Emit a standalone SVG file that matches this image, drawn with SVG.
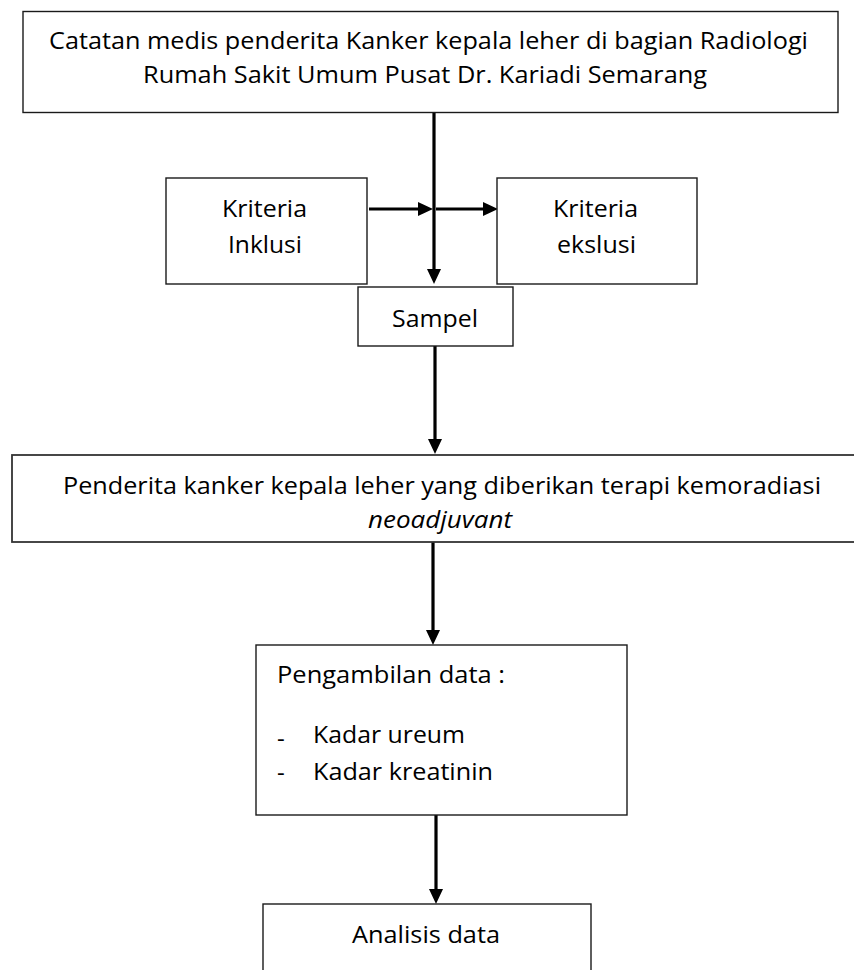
<svg xmlns="http://www.w3.org/2000/svg" width="854" height="970" viewBox="0 0 854 970">
<style>
.box{fill:#fff;stroke:#1a1a1a;stroke-width:1.4}
.t{font-family:"Open Sans","Liberation Sans",sans-serif;font-size:24px;fill:#000}
.c{text-anchor:middle}
.conn{stroke:#000;stroke-width:3.2;fill:none}
</style>
<defs>
<marker id="ah" viewBox="0 0 15 14" markerUnits="userSpaceOnUse" markerWidth="15" markerHeight="14" refX="7" refY="7" orient="auto">
<path d="M0,0 L15,7 L0,14 Z" fill="#000"/>
</marker>
</defs>
<rect width="854" height="970" fill="#fff"/>
<g id="connectors">
<line class="conn" x1="434" y1="113" x2="434" y2="276" marker-end="url(#ah)"/>
<line class="conn" x1="369" y1="209" x2="425" y2="209" marker-end="url(#ah)"/>
<line class="conn" x1="436" y1="209" x2="490" y2="209" marker-end="url(#ah)"/>
<line class="conn" x1="435" y1="346" x2="435" y2="446" marker-end="url(#ah)"/>
<line class="conn" x1="433" y1="542" x2="433" y2="637" marker-end="url(#ah)"/>
<line class="conn" x1="436" y1="815" x2="436" y2="896" marker-end="url(#ah)"/>
</g>
<g id="catatan">
<rect class="box" x="23" y="11.5" width="815" height="101"/>
<text class="t" x="49" y="49" textLength="759" lengthAdjust="spacingAndGlyphs">Catatan medis penderita Kanker kepala leher di bagian Radiologi</text>
<text class="t" x="143" y="83" textLength="564" lengthAdjust="spacingAndGlyphs">Rumah Sakit Umum Pusat Dr. Kariadi Semarang</text>
</g>
<g id="inklusi">
<rect class="box" x="166" y="178" width="201" height="106"/>
<text class="t" x="222" y="217" textLength="85" lengthAdjust="spacingAndGlyphs">Kriteria</text>
<text class="t" x="228" y="253" textLength="74" lengthAdjust="spacingAndGlyphs">Inklusi</text>
</g>
<g id="ekslusi">
<rect class="box" x="497" y="178" width="200" height="106"/>
<text class="t" x="553" y="217" textLength="85" lengthAdjust="spacingAndGlyphs">Kriteria</text>
<text class="t" x="557" y="253" textLength="79" lengthAdjust="spacingAndGlyphs">ekslusi</text>
</g>
<g id="sampel">
<rect class="box" x="358" y="287" width="155" height="59"/>
<text class="t" x="392" y="327" textLength="86" lengthAdjust="spacingAndGlyphs">Sampel</text>
</g>
<g id="penderita">
<rect class="box" x="12" y="455" width="870" height="87" style="stroke-width:1.8;stroke:#333"/>
<text class="t" x="63" y="494" textLength="758" lengthAdjust="spacingAndGlyphs">Penderita kanker kepala leher yang diberikan terapi kemoradiasi</text>
<text class="t" x="368" y="528" textLength="144" lengthAdjust="spacingAndGlyphs" font-style="italic">neoadjuvant</text>
</g>
<g id="pengambilan">
<rect class="box" x="256" y="645" width="371" height="170"/>
<text class="t" x="277" y="683" textLength="228" lengthAdjust="spacingAndGlyphs">Pengambilan data :</text>
<text class="t" x="277" y="747" font-size="20">-</text>
<text class="t" x="313" y="743" textLength="152" lengthAdjust="spacingAndGlyphs">Kadar ureum</text>
<text class="t" x="277" y="781" font-size="20">-</text>
<text class="t" x="313" y="780" textLength="180" lengthAdjust="spacingAndGlyphs">Kadar kreatinin</text>
</g>
<g id="analisis">
<rect class="box" x="263" y="904" width="328" height="80"/>
<text class="t" x="352" y="943" textLength="148" lengthAdjust="spacingAndGlyphs">Analisis data</text>
</g>
</svg>
